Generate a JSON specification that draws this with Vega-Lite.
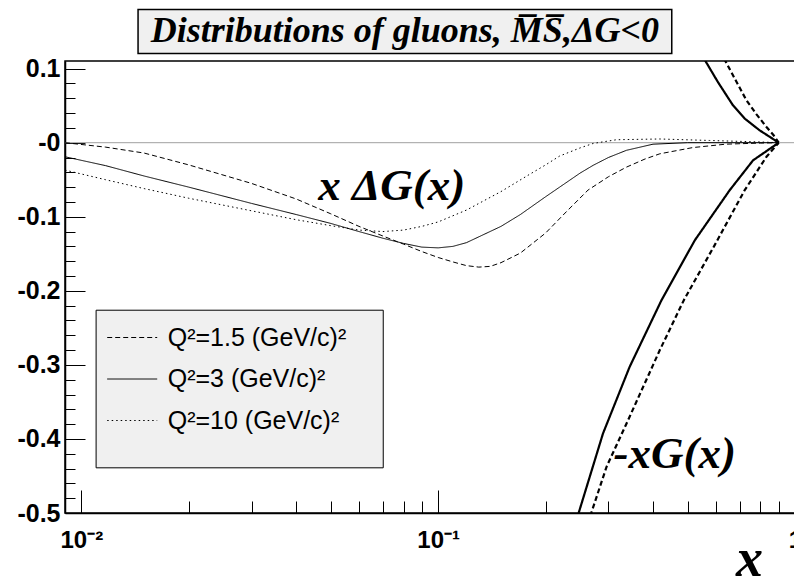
{
  "$schema": "https://vega.github.io/schema/vega-lite/v6.json",
  "width": 730,
  "height": 452,
  "autosize": {"type": "none"},
  "padding": {"left": 65, "top": 61, "right": 0, "bottom": 67},
  "background": "white",
  "config": {
    "font": "Liberation Sans",
    "view": {"stroke": "black", "strokeWidth": 1.5},
    "axis": {"labelOverlap": false, "labelBound": false, "labelFlush": false, "labelSeparation": 0}
  },
  "datasets": {
    "dG": [
      {"Q2": "1.5", "x": 0.009, "y": 0},
      {"Q2": "1.5", "x": 0.0117, "y": -0.006},
      {"Q2": "1.5", "x": 0.015, "y": -0.014},
      {"Q2": "1.5", "x": 0.02, "y": -0.03},
      {"Q2": "1.5", "x": 0.03, "y": -0.055},
      {"Q2": "1.5", "x": 0.04, "y": -0.076},
      {"Q2": "1.5", "x": 0.05, "y": -0.096},
      {"Q2": "1.5", "x": 0.06, "y": -0.113},
      {"Q2": "1.5", "x": 0.07, "y": -0.126},
      {"Q2": "1.5", "x": 0.08, "y": -0.137},
      {"Q2": "1.5", "x": 0.09, "y": -0.147},
      {"Q2": "1.5", "x": 0.1, "y": -0.155},
      {"Q2": "1.5", "x": 0.11, "y": -0.161},
      {"Q2": "1.5", "x": 0.12, "y": -0.166},
      {"Q2": "1.5", "x": 0.13, "y": -0.168},
      {"Q2": "1.5", "x": 0.14, "y": -0.167},
      {"Q2": "1.5", "x": 0.15, "y": -0.162},
      {"Q2": "1.5", "x": 0.17, "y": -0.149},
      {"Q2": "1.5", "x": 0.2, "y": -0.122},
      {"Q2": "1.5", "x": 0.23, "y": -0.092},
      {"Q2": "1.5", "x": 0.263, "y": -0.064},
      {"Q2": "1.5", "x": 0.3, "y": -0.046},
      {"Q2": "1.5", "x": 0.337, "y": -0.033},
      {"Q2": "1.5", "x": 0.38, "y": -0.022},
      {"Q2": "1.5", "x": 0.418, "y": -0.015},
      {"Q2": "1.5", "x": 0.517, "y": -0.0066},
      {"Q2": "1.5", "x": 0.64, "y": -0.002},
      {"Q2": "1.5", "x": 0.8, "y": -0.0005},
      {"Q2": "1.5", "x": 0.9, "y": 0},
      {"Q2": "3", "x": 0.009, "y": -0.019},
      {"Q2": "3", "x": 0.0117, "y": -0.031},
      {"Q2": "3", "x": 0.015, "y": -0.045},
      {"Q2": "3", "x": 0.02, "y": -0.06},
      {"Q2": "3", "x": 0.03, "y": -0.082},
      {"Q2": "3", "x": 0.04, "y": -0.097},
      {"Q2": "3", "x": 0.05, "y": -0.109},
      {"Q2": "3", "x": 0.06, "y": -0.12},
      {"Q2": "3", "x": 0.07, "y": -0.129},
      {"Q2": "3", "x": 0.08, "y": -0.136},
      {"Q2": "3", "x": 0.09, "y": -0.141},
      {"Q2": "3", "x": 0.1, "y": -0.142},
      {"Q2": "3", "x": 0.11, "y": -0.14},
      {"Q2": "3", "x": 0.12, "y": -0.135},
      {"Q2": "3", "x": 0.15, "y": -0.113},
      {"Q2": "3", "x": 0.17, "y": -0.097},
      {"Q2": "3", "x": 0.2, "y": -0.073},
      {"Q2": "3", "x": 0.219, "y": -0.06},
      {"Q2": "3", "x": 0.25, "y": -0.041},
      {"Q2": "3", "x": 0.272, "y": -0.0305},
      {"Q2": "3", "x": 0.3, "y": -0.02},
      {"Q2": "3", "x": 0.337, "y": -0.0103},
      {"Q2": "3", "x": 0.4, "y": -0.002},
      {"Q2": "3", "x": 0.5, "y": 0},
      {"Q2": "3", "x": 0.9, "y": 0},
      {"Q2": "10", "x": 0.009, "y": -0.037},
      {"Q2": "10", "x": 0.0117, "y": -0.05},
      {"Q2": "10", "x": 0.015, "y": -0.062},
      {"Q2": "10", "x": 0.02, "y": -0.075},
      {"Q2": "10", "x": 0.03, "y": -0.092},
      {"Q2": "10", "x": 0.04, "y": -0.104},
      {"Q2": "10", "x": 0.05, "y": -0.112},
      {"Q2": "10", "x": 0.06, "y": -0.118},
      {"Q2": "10", "x": 0.07, "y": -0.12},
      {"Q2": "10", "x": 0.08, "y": -0.118},
      {"Q2": "10", "x": 0.09, "y": -0.113},
      {"Q2": "10", "x": 0.1, "y": -0.107},
      {"Q2": "10", "x": 0.12, "y": -0.091},
      {"Q2": "10", "x": 0.15, "y": -0.066},
      {"Q2": "10", "x": 0.18, "y": -0.043},
      {"Q2": "10", "x": 0.2, "y": -0.03},
      {"Q2": "10", "x": 0.219, "y": -0.018},
      {"Q2": "10", "x": 0.25, "y": -0.007},
      {"Q2": "10", "x": 0.272, "y": -0.001},
      {"Q2": "10", "x": 0.316, "y": 0.004},
      {"Q2": "10", "x": 0.418, "y": 0.005},
      {"Q2": "10", "x": 0.576, "y": 0.003},
      {"Q2": "10", "x": 0.796, "y": 0.001},
      {"Q2": "10", "x": 0.9, "y": 0}
    ],
    "G": [
      {"Q2": "3", "series": "3 up", "x": 0.507, "y": 0.165},
      {"Q2": "3", "series": "3 up", "x": 0.561, "y": 0.1103},
      {"Q2": "3", "series": "3 up", "x": 0.608, "y": 0.0819},
      {"Q2": "3", "series": "3 up", "x": 0.67, "y": 0.0505},
      {"Q2": "3", "series": "3 up", "x": 0.723, "y": 0.0325},
      {"Q2": "3", "series": "3 up", "x": 0.796, "y": 0.0167},
      {"Q2": "3", "series": "3 up", "x": 0.849, "y": 0.008},
      {"Q2": "3", "series": "3 up", "x": 0.9, "y": 0},
      {"Q2": "1.5", "series": "1.5 up", "x": 0.585, "y": 0.165},
      {"Q2": "1.5", "series": "1.5 up", "x": 0.638, "y": 0.1103},
      {"Q2": "1.5", "series": "1.5 up", "x": 0.682, "y": 0.0842},
      {"Q2": "1.5", "series": "1.5 up", "x": 0.731, "y": 0.0572},
      {"Q2": "1.5", "series": "1.5 up", "x": 0.78, "y": 0.0383},
      {"Q2": "1.5", "series": "1.5 up", "x": 0.832, "y": 0.0212},
      {"Q2": "1.5", "series": "1.5 up", "x": 0.871, "y": 0.01},
      {"Q2": "1.5", "series": "1.5 up", "x": 0.9, "y": 0},
      {"Q2": "3", "series": "3 low", "x": 0.24, "y": -0.536},
      {"Q2": "3", "series": "3 low", "x": 0.248, "y": -0.4988},
      {"Q2": "3", "series": "3 low", "x": 0.2897, "y": -0.3926},
      {"Q2": "3", "series": "3 low", "x": 0.344, "y": -0.3027},
      {"Q2": "3", "series": "3 low", "x": 0.4225, "y": -0.2127},
      {"Q2": "3", "series": "3 low", "x": 0.524, "y": -0.1317},
      {"Q2": "3", "series": "3 low", "x": 0.656, "y": -0.0642},
      {"Q2": "3", "series": "3 low", "x": 0.763, "y": -0.0238},
      {"Q2": "3", "series": "3 low", "x": 0.9, "y": 0},
      {"Q2": "1.5", "series": "1.5 low", "x": 0.2594, "y": -0.536},
      {"Q2": "1.5", "series": "1.5 low", "x": 0.269, "y": -0.499},
      {"Q2": "1.5", "series": "1.5 low", "x": 0.2964, "y": -0.4376},
      {"Q2": "1.5", "series": "1.5 low", "x": 0.344, "y": -0.37},
      {"Q2": "1.5", "series": "1.5 low", "x": 0.418, "y": -0.28},
      {"Q2": "1.5", "series": "1.5 low", "x": 0.488, "y": -0.2127},
      {"Q2": "1.5", "series": "1.5 low", "x": 0.596, "y": -0.138},
      {"Q2": "1.5", "series": "1.5 low", "x": 0.723, "y": -0.064},
      {"Q2": "1.5", "series": "1.5 low", "x": 0.832, "y": -0.019},
      {"Q2": "1.5", "series": "1.5 low", "x": 0.9, "y": 0}
    ],
    "notes": [
      {"label": "x \u0394G(x)", "x": 0.0741, "y": -0.0777},
      {"label": "-xG(x)", "x": 0.46, "y": -0.4394}
    ],
    "title": [
      {"label": "Distributions of gluons, M\u0305S\u0305,\u0394G<0"}
    ]
  },
  "layer": [
    {
      "data": {"values": [{}]},
      "mark": {"type": "rect", "fill": "#f0f0f0", "stroke": "black", "strokeWidth": 1.5, "clip": false},
      "encoding": {
        "x": {"datum": 0.01442, "type": "quantitative", "scale": {"type": "log", "domain": [0.009, 1], "nice": false}},
        "x2": {"datum": 0.4515},
        "y": {"datum": 0.18, "type": "quantitative", "scale": {"domain": [-0.5, 0.1103], "nice": false, "zero": false}},
        "y2": {"datum": 0.1204}
      }
    },
    {
      "data": {"values": [{}]},
      "mark": {"type": "rect", "fill": "#f0f0f0", "stroke": "black", "strokeWidth": 1},
      "encoding": {
        "x": {"datum": 0.011, "type": "quantitative", "scale": {"type": "log", "domain": [0.009, 1], "nice": false}},
        "x2": {"datum": 0.07016},
        "y": {"datum": -0.2262, "type": "quantitative", "scale": {"domain": [-0.5, 0.1103], "nice": false, "zero": false}},
        "y2": {"datum": -0.439}
      }
    },
    {
      "data": {"values": [{}]},
      "mark": {"type": "rule", "color": "#a0a0a0", "strokeWidth": 1},
      "encoding": {
        "y": {"datum": 0, "type": "quantitative", "scale": {"domain": [-0.5, 0.1103], "nice": false, "zero": false}}
      }
    },
    {
      "data": {"name": "dG"},
      "mark": {"type": "line", "color": "black", "strokeWidth": 1, "clip": true},
      "encoding": {
        "x": {
          "field": "x", "type": "quantitative",
          "scale": {"type": "log", "domain": [0.009, 1], "nice": false},
          "axis": {
            "values": [0.01, 0.02, 0.03, 0.04, 0.05, 0.06, 0.07, 0.08, 0.09, 0.1, 0.2, 0.3, 0.4, 0.5, 0.6, 0.7, 0.8, 0.9, 1],
            "tickCount": 200,
            "labelExpr": "datum.value == 0.01 ? '10\u207b\u00b2' : (datum.value == 0.1 ? '10\u207b\u00b9' : (datum.value == 1 ? '1' : ''))",
            "ticks": false,
            "grid": true,
            "gridColor": "black",
            "gridWidth": 1,
            "gridOpacity": 1,
            "gridDash": {"condition": {"test": "abs(log(datum.value)/LN10 - round(log(datum.value)/LN10)) < 1e-6", "value": [0, 429, 23, 1000]}, "value": [0, 440, 12, 1000]},
            "domainColor": "black",
            "domainWidth": 1.5,
            "labelFont": "Liberation Sans",
            "labelFontWeight": "bold",
            "labelFontSize": 24,
            "labelColor": "black",
            "labelPadding": 15,
            "labelFlush": false,
            "labelBound": false,
            "labelOverlap": false,
            "title": "x",
            "titleFont": "Liberation Serif",
            "titleFontStyle": "italic",
            "titleFontWeight": "bold",
            "titleFontSize": 54,
            "titleColor": "black",
            "titleX": 684,
            "titleY": 62,
            "titleAlign": "center",
            "titleBaseline": "alphabetic",
            "titleAngle": 0
          }
        },
        "y": {
          "field": "y", "type": "quantitative",
          "scale": {"domain": [-0.5, 0.1103], "nice": false, "zero": false},
          "axis": {
            "values": [-0.5, -0.48, -0.46, -0.44, -0.42, -0.4, -0.38, -0.36, -0.34, -0.32, -0.3, -0.28, -0.26, -0.24, -0.22, -0.2, -0.18, -0.16, -0.14, -0.12, -0.1, -0.08, -0.06, -0.04, -0.02, 0, 0.02, 0.04, 0.06, 0.08, 0.1],
            "tickCount": 200,
            "labelExpr": "abs(datum.value*10 - round(datum.value*10)) > 1e-6 ? '' : (datum.value == 0 ? '-0' : (datum.value < 0 ? '-' + format(-datum.value, '.1f') : format(datum.value, '.1f')))",
            "ticks": false,
            "grid": true,
            "gridColor": "black",
            "gridWidth": 1,
            "gridOpacity": 1,
            "gridDash": {"condition": {"test": "abs(datum.value*10 - round(datum.value*10)) < 1e-6", "value": [20, 2000]}, "value": [10, 2000]},
            "domainColor": "black",
            "domainWidth": 1.5,
            "labelFont": "Liberation Sans",
            "labelFontWeight": "bold",
            "labelFontSize": 25,
            "labelColor": "black",
            "labelPadding": 5,
            "labelFlush": false,
            "labelBound": false,
            "labelOverlap": false,
            "title": null
          }
        },
        "strokeDash": {
          "field": "Q2", "type": "nominal",
          "scale": {"domain": ["1.5", "3", "10"], "range": [[5, 3], [1, 0], [1.5, 3]]},
          "legend": {
            "orient": "none",
            "legendX": 41.7,
            "legendY": 251,
            "title": null,
            "symbolType": "stroke",
            "symbolSize": 2500,
            "symbolStrokeWidth": 1,
            "symbolStrokeColor": "black",
            "labelFont": "Liberation Sans",
            "labelFontSize": 25,
            "labelLimit": 500,
            "labelColor": "black",
            "labelOffset": 10,
            "rowPadding": 2.5,
            "padding": 0,
            "labelExpr": "'Q\u00b2=' + datum.label + ' (GeV/c)\u00b2'"
          }
        }
      }
    },
    {
      "data": {"name": "G"},
      "mark": {"type": "line", "color": "black", "strokeWidth": 2.2, "clip": true},
      "encoding": {
        "x": {"field": "x", "type": "quantitative", "scale": {"type": "log", "domain": [0.009, 1], "nice": false}},
        "y": {"field": "y", "type": "quantitative", "scale": {"domain": [-0.5, 0.1103], "nice": false, "zero": false}},
        "strokeDash": {"field": "Q2", "type": "nominal", "scale": {"domain": ["1.5", "3", "10"], "range": [[5, 3], [1, 0], [1.5, 3]]}},
        "detail": {"field": "series", "type": "nominal"}
      }
    },
    {
      "data": {"name": "notes"},
      "mark": {"type": "text", "font": "Liberation Serif", "fontStyle": "italic", "fontWeight": "bold", "fontSize": 45, "align": "center", "baseline": "alphabetic", "color": "black"},
      "encoding": {
        "x": {"field": "x", "type": "quantitative", "scale": {"type": "log", "domain": [0.009, 1], "nice": false}},
        "y": {"field": "y", "type": "quantitative", "scale": {"domain": [-0.5, 0.1103], "nice": false, "zero": false}},
        "text": {"field": "label"}
      }
    },
    {
      "data": {"name": "title"},
      "mark": {"type": "text", "font": "Liberation Serif", "fontStyle": "italic", "fontWeight": "bold", "fontSize": 36, "align": "center", "baseline": "middle", "color": "black", "clip": false},
      "encoding": {
        "x": {"datum": 0.08066, "type": "quantitative", "scale": {"type": "log", "domain": [0.009, 1], "nice": false}},
        "y": {"datum": 0.1503, "type": "quantitative", "scale": {"domain": [-0.5, 0.1103], "nice": false, "zero": false}},
        "text": {"field": "label"}
      }
    }
  ]
}
